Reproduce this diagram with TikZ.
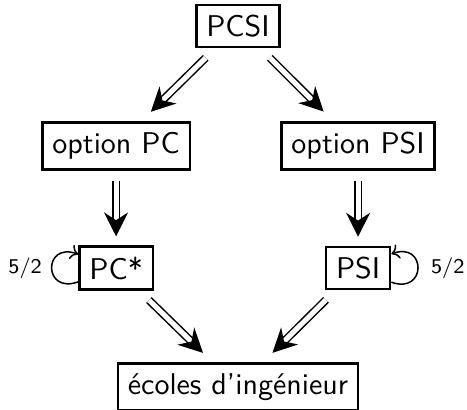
\documentclass[tikz,border=0pt]{standalone}
\usetikzlibrary{arrows.meta}
\tikzset{
  box/.style={draw, thick, font=\sffamily},
  imp/.style={double, double distance=1.7pt, line width=0.5pt,
    -{Stealth[length=8pt,width=8pt,inset=2.6pt]},
    shorten <=4.5pt, shorten >=4.5pt},
  boucle/.style={line width=0.5pt, -{To[length=2.5pt,width=5pt]}, distance=4.4mm},
  lbl/.style={font=\sffamily\scriptsize}
}
\begin{document}
\begin{tikzpicture}
\useasboundingbox (0,0) rectangle (5.471,-4.803);
% les classes
\node[box] (pcsi) at (2.788,-0.305) {PCSI};
\node[box] (optpc) at (1.36,-1.710) {option PC};
\node[box] (optpsi) at (4.195,-1.710) {option PSI};
\node[box] (pcs) at (1.36,-3.140) {PC*};
\node[box] (psi) at (4.195,-3.140) {PSI};
\node[box] (ecoles) at (2.788,-4.534) {écoles d’ingénieur};
% les passages
\draw[imp] (pcsi) -- (optpc);
\draw[imp] (pcsi) -- (optpsi);
\draw[imp, shorten <=3.5pt, shorten >=3pt] (optpc) -- (pcs);
\draw[imp, shorten <=3.5pt, shorten >=3pt] (optpsi) -- (psi);
\draw[imp] (pcs) -- (ecoles);
\draw[imp] (psi) -- (ecoles);
% les redoublements
\draw[boucle] (pcs.200) to[out=200,in=160] node[lbl,left=-0.3pt]{5/2} (pcs.160);
\draw[boucle] (psi.-23) to[out=-20,in=20] node[lbl,right=0.8pt]{5/2} (psi.23);
\end{tikzpicture}
\end{document}
